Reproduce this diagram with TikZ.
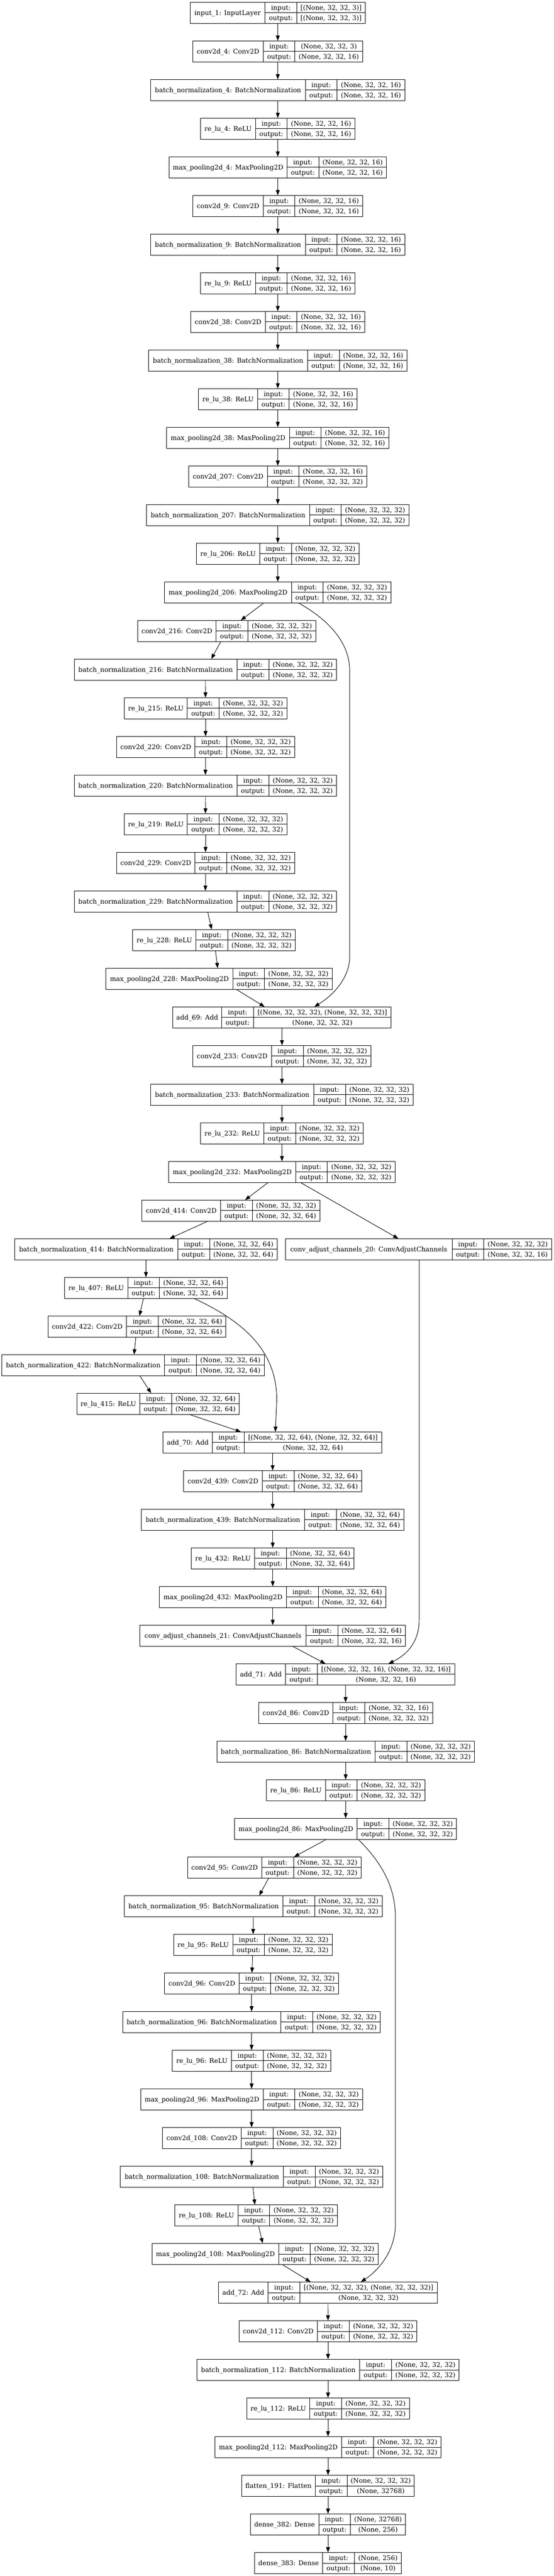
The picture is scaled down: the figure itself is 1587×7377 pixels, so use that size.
\documentclass[tikz,border=0pt]{standalone}
\usepackage{fontspec}
\setmainfont{DejaVu Serif}
\usetikzlibrary{arrows.meta,calc}
\tikzset{
  lbox/.style={draw=black, line width=0.7pt, inner sep=0pt, outer sep=0pt, minimum height=30.5pt, fill=white},
  cell/.style={line width=0.7pt},
  txt/.style={inner sep=0pt, font=\fontsize{9.35}{11}\selectfont, text height=6.8pt, text depth=0pt},
  arr/.style={line width=0.7pt, -{Triangle[length=7.5pt,width=5.5pt]}}
}
% #1 id, #2 rank, #3 left x, #4 name cell width, #5 value cell width, #6 title, #7 input, #8 output
\newcommand\layer[8]{%
  \pgfmathsetmacro\kyY{6+110.66*#2}%
  \pgfmathsetmacro\kyA{#3+#4}%
  \pgfmathsetmacro\kyB{#3+#4+91}%
  \pgfmathsetmacro\kyC{#3+#4+91+#5}%
  \pgfmathsetmacro\kyW{(#4+91+#5)*0.5}%
  \pgfmathsetmacro\kyM{6+110.66*#2+30.5}%
  \pgfmathsetmacro\kyE{6+110.66*#2+61}%
  \node[lbox, minimum width=\kyW pt, anchor=north west] (#1) at (#3,\kyY) {};
  \draw[cell] (\kyA,\kyY) -- (\kyA,\kyE) (\kyB,\kyY) -- (\kyB,\kyE) (\kyA,\kyM) -- (\kyC,\kyM);
  \node[txt] (#1-n) at ({(#3+\kyA)/2},\kyM) {#6};
  \node[txt] (#1-i) at ({(\kyA+\kyB)/2},{\kyY+15.25}) {input:};
  \node[txt] (#1-iv) at ({(\kyB+\kyC)/2},{\kyY+15.25}) {#7};
  \node[txt] (#1-o) at ({(\kyA+\kyB)/2},{\kyY+45.75}) {output:};
  \node[txt] (#1-ov) at ({(\kyB+\kyC)/2},{\kyY+45.75}) {#8};
}
\begin{document}
\begin{tikzpicture}[x=0.5pt,y=-0.5pt]
\fill[white] (0,0) rectangle (1587,7377);
\useasboundingbox (0,0) rectangle (1587,7377);
% main column (ranks 0-15)
\layer{inp}{0}{545}{214.5}{196.5}{input\_1: InputLayer}{[(None, 32, 32, 3)]}{[(None, 32, 32, 3)]}
\layer{c4}{1}{552.75}{201.5}{194}{conv2d\_4: Conv2D}{(None, 32, 32, 3)}{(None, 32, 32, 16)}
\layer{b4}{2}{432}{443}{194}{batch\_normalization\_4: BatchNormalization}{(None, 32, 32, 16)}{(None, 32, 32, 16)}
\layer{r4}{3}{575}{157}{194}{re\_lu\_4: ReLU}{(None, 32, 32, 16)}{(None, 32, 32, 16)}
\layer{m4}{4}{484.5}{338}{194}{max\_pooling2d\_4: MaxPooling2D}{(None, 32, 32, 16)}{(None, 32, 32, 16)}
\layer{c9}{5}{552.75}{201.5}{194}{conv2d\_9: Conv2D}{(None, 32, 32, 16)}{(None, 32, 32, 16)}
\layer{b9}{6}{432}{443}{194}{batch\_normalization\_9: BatchNormalization}{(None, 32, 32, 16)}{(None, 32, 32, 16)}
\layer{r9}{7}{575}{157}{194}{re\_lu\_9: ReLU}{(None, 32, 32, 16)}{(None, 32, 32, 16)}
\layer{c38}{8}{546.75}{213.5}{194}{conv2d\_38: Conv2D}{(None, 32, 32, 16)}{(None, 32, 32, 16)}
\layer{b38}{9}{425.75}{455.5}{194}{batch\_normalization\_38: BatchNormalization}{(None, 32, 32, 16)}{(None, 32, 32, 16)}
\layer{r38}{10}{569}{169}{194}{re\_lu\_38: ReLU}{(None, 32, 32, 16)}{(None, 32, 32, 16)}
\layer{m38}{11}{477.75}{351.5}{194}{max\_pooling2d\_38: MaxPooling2D}{(None, 32, 32, 16)}{(None, 32, 32, 16)}
\layer{c207}{12}{541.25}{224.5}{194}{conv2d\_207: Conv2D}{(None, 32, 32, 16)}{(None, 32, 32, 32)}
\layer{b207}{13}{420.25}{466.5}{194}{batch\_normalization\_207: BatchNormalization}{(None, 32, 32, 32)}{(None, 32, 32, 32)}
\layer{r206}{14}{562.75}{181.5}{194}{re\_lu\_206: ReLU}{(None, 32, 32, 32)}{(None, 32, 32, 32)}
\layer{m206}{15}{471.75}{363.5}{194}{max\_pooling2d\_206: MaxPooling2D}{(None, 32, 32, 32)}{(None, 32, 32, 32)}
% first residual branch
\layer{c216}{16}{394.5}{225}{194}{conv2d\_216: Conv2D}{(None, 32, 32, 32)}{(None, 32, 32, 32)}
\layer{b216}{17}{212.5}{467}{194}{batch\_normalization\_216: BatchNormalization}{(None, 32, 32, 32)}{(None, 32, 32, 32)}
\layer{r215}{18}{356}{181}{194}{re\_lu\_215: ReLU}{(None, 32, 32, 32)}{(None, 32, 32, 32)}
\layer{c220}{19}{334}{225}{194}{conv2d\_220: Conv2D}{(None, 32, 32, 32)}{(None, 32, 32, 32)}
\layer{b220}{20}{212.5}{467}{194}{batch\_normalization\_220: BatchNormalization}{(None, 32, 32, 32)}{(None, 32, 32, 32)}
\layer{r219}{21}{356}{181}{194}{re\_lu\_219: ReLU}{(None, 32, 32, 32)}{(None, 32, 32, 32)}
\layer{c229}{22}{334}{225}{194}{conv2d\_229: Conv2D}{(None, 32, 32, 32)}{(None, 32, 32, 32)}
\layer{b229}{23}{212.5}{467}{194}{batch\_normalization\_229: BatchNormalization}{(None, 32, 32, 32)}{(None, 32, 32, 32)}
\layer{r228}{24}{380.5}{181}{194}{re\_lu\_228: ReLU}{(None, 32, 32, 32)}{(None, 32, 32, 32)}
\layer{m228}{25}{303.5}{363.5}{194}{max\_pooling2d\_228: MaxPooling2D}{(None, 32, 32, 32)}{(None, 32, 32, 32)}
\layer{a69}{26}{495}{140.5}{394.5}{add\_69: Add}{[(None, 32, 32, 32), (None, 32, 32, 32)]}{(None, 32, 32, 32)}
\layer{c233}{27}{553}{225}{194}{conv2d\_233: Conv2D}{(None, 32, 32, 32)}{(None, 32, 32, 32)}
\layer{b233}{28}{432}{467}{194}{batch\_normalization\_233: BatchNormalization}{(None, 32, 32, 32)}{(None, 32, 32, 32)}
\layer{r232}{29}{575}{181}{194}{re\_lu\_232: ReLU}{(None, 32, 32, 32)}{(None, 32, 32, 32)}
\layer{m232}{30}{483.75}{363.5}{194}{max\_pooling2d\_232: MaxPooling2D}{(None, 32, 32, 32)}{(None, 32, 32, 32)}
% second residual branch
\layer{c414}{31}{407}{225}{194}{conv2d\_414: Conv2D}{(None, 32, 32, 32)}{(None, 32, 32, 64)}
\layer{b414}{32}{42.5}{467}{194}{batch\_normalization\_414: BatchNormalization}{(None, 32, 32, 64)}{(None, 32, 32, 64)}
\layer{ca20}{32}{818}{477.5}{194}{conv\_adjust\_channels\_20: ConvAdjustChannels}{(None, 32, 32, 32)}{(None, 32, 32, 16)}
\layer{r407}{33}{185}{181}{194}{re\_lu\_407: ReLU}{(None, 32, 32, 64)}{(None, 32, 32, 64)}
\layer{c422}{34}{137.5}{225}{194}{conv2d\_422: Conv2D}{(None, 32, 32, 64)}{(None, 32, 32, 64)}
\layer{b422}{35}{5}{467}{194}{batch\_normalization\_422: BatchNormalization}{(None, 32, 32, 64)}{(None, 32, 32, 64)}
\layer{r415}{36}{220}{181}{194}{re\_lu\_415: ReLU}{(None, 32, 32, 64)}{(None, 32, 32, 64)}
\layer{a70}{37}{467.5}{141}{394.5}{add\_70: Add}{[(None, 32, 32, 64), (None, 32, 32, 64)]}{(None, 32, 32, 64)}
\layer{c439}{38}{526.5}{225}{194}{conv2d\_439: Conv2D}{(None, 32, 32, 64)}{(None, 32, 32, 64)}
\layer{b439}{39}{405.5}{467}{194}{batch\_normalization\_439: BatchNormalization}{(None, 32, 32, 64)}{(None, 32, 32, 64)}
\layer{r432}{40}{548.5}{181}{194}{re\_lu\_432: ReLU}{(None, 32, 32, 64)}{(None, 32, 32, 64)}
\layer{m432}{41}{457.25}{363.5}{194}{max\_pooling2d\_432: MaxPooling2D}{(None, 32, 32, 64)}{(None, 32, 32, 64)}
\layer{ca21}{42}{400.75}{476.5}{194}{conv\_adjust\_channels\_21: ConvAdjustChannels}{(None, 32, 32, 64)}{(None, 32, 32, 16)}
\layer{a71}{43}{677}{141}{394}{add\_71: Add}{[(None, 32, 32, 16), (None, 32, 32, 16)]}{(None, 32, 32, 16)}
\layer{c86}{44}{741.5}{213}{194}{conv2d\_86: Conv2D}{(None, 32, 32, 16)}{(None, 32, 32, 32)}
\layer{b86}{45}{621.25}{453.5}{194}{batch\_normalization\_86: BatchNormalization}{(None, 32, 32, 32)}{(None, 32, 32, 32)}
\layer{r86}{46}{763.5}{169}{194}{re\_lu\_86: ReLU}{(None, 32, 32, 32)}{(None, 32, 32, 32)}
\layer{m86}{47}{672.5}{351}{194}{max\_pooling2d\_86: MaxPooling2D}{(None, 32, 32, 32)}{(None, 32, 32, 32)}
% third residual branch
\layer{c95}{48}{537.5}{212.5}{194}{conv2d\_95: Conv2D}{(None, 32, 32, 32)}{(None, 32, 32, 32)}
\layer{b95}{49}{357}{453.5}{194}{batch\_normalization\_95: BatchNormalization}{(None, 32, 32, 32)}{(None, 32, 32, 32)}
\layer{r95}{50}{498}{169}{194}{re\_lu\_95: ReLU}{(None, 32, 32, 32)}{(None, 32, 32, 32)}
\layer{c96}{51}{472}{213}{194}{conv2d\_96: Conv2D}{(None, 32, 32, 32)}{(None, 32, 32, 32)}
\layer{b96}{52}{351.75}{453.5}{194}{batch\_normalization\_96: BatchNormalization}{(None, 32, 32, 32)}{(None, 32, 32, 32)}
\layer{r96}{53}{494}{169}{194}{re\_lu\_96: ReLU}{(None, 32, 32, 32)}{(None, 32, 32, 32)}
\layer{m96}{54}{403}{351}{194}{max\_pooling2d\_96: MaxPooling2D}{(None, 32, 32, 32)}{(None, 32, 32, 32)}
\layer{c108}{55}{466}{225}{194}{conv2d\_108: Conv2D}{(None, 32, 32, 32)}{(None, 32, 32, 32)}
\layer{b108}{56}{345}{467}{194}{batch\_normalization\_108: BatchNormalization}{(None, 32, 32, 32)}{(None, 32, 32, 32)}
\layer{r108}{57}{501}{181}{194}{re\_lu\_108: ReLU}{(None, 32, 32, 32)}{(None, 32, 32, 32)}
\layer{m108}{58}{436}{362.5}{194}{max\_pooling2d\_108: MaxPooling2D}{(None, 32, 32, 32)}{(None, 32, 32, 32)}
\layer{a72}{59}{626.5}{141.5}{394}{add\_72: Add}{[(None, 32, 32, 32), (None, 32, 32, 32)]}{(None, 32, 32, 32)}
% head
\layer{c112}{60}{685}{225}{194}{conv2d\_112: Conv2D}{(None, 32, 32, 32)}{(None, 32, 32, 32)}
\layer{b112}{61}{564}{467}{194}{batch\_normalization\_112: BatchNormalization}{(None, 32, 32, 32)}{(None, 32, 32, 32)}
\layer{r112}{62}{707}{181}{194}{re\_lu\_112: ReLU}{(None, 32, 32, 32)}{(None, 32, 32, 32)}
\layer{m112}{63}{616}{363}{194}{max\_pooling2d\_112: MaxPooling2D}{(None, 32, 32, 32)}{(None, 32, 32, 32)}
\layer{fl}{64}{692.5}{211}{193}{flatten\_191: Flatten}{(None, 32, 32, 32)}{(None, 32768)}
\layer{d382}{65}{717.75}{195.5}{158}{dense\_382: Dense}{(None, 32768)}{(None, 256)}
\layer{d383}{66}{729.5}{195}{135}{dense\_383: Dense}{(None, 256)}{(None, 10)}
% straight connectors
\foreach \a/\b in {inp/c4,c4/b4,b4/r4,r4/m4,m4/c9,c9/b9,b9/r9,r9/c38,c38/b38,b38/r38,r38/m38,m38/c207,c207/b207,b207/r206,r206/m206,
  m206/c216,c216/b216,b216/r215,r215/c220,c220/b220,b220/r219,r219/c229,c229/b229,b229/r228,r228/m228,m228/a69,
  a69/c233,c233/b233,b233/r232,r232/m232,
  m232/c414,c414/b414,b414/r407,r407/c422,c422/b422,b422/r415,r415/a70,
  a70/c439,c439/b439,b439/r432,r432/m432,m432/ca21,ca21/a71,
  a71/c86,c86/b86,b86/r86,r86/m86,
  m86/c95,c95/b95,b95/r95,r95/c96,c96/b96,b96/r96,r96/m96,m96/c108,c108/b108,b108/r108,r108/m108,m108/a72,
  a72/c112,c112/b112,b112/r112,r112/m112,m112/fl,fl/d382,d382/d383}
  \draw[arr] (\a) -- (\b);
\draw[arr] ($(m232.south west)+(378,0)$) -- ($(ca20.north west)+(323.6,0)$);
% skip connectors
\draw[arr] ($(m206.south west)+(383.5,0)$) .. controls (925,1765) and (1002,1830) .. (1002,1920)
  -- (1002,2740) .. controls (1002,2800) and (955,2850) .. ($(a69.north west)+(405.7,0)$);
\draw[arr] ($(r407.south west)+(371.6,0)$) .. controls (700,3785) and (794,3870) .. (793,4010)
  -- ($(a70.north west)+(321.5,0)$);
\draw[arr] ($(ca20.south west)+(383,0)$) -- (1201,4640) .. controls (1201,4700) and (1168,4738) .. ($(a71.north west)+(436,0)$);
\draw[arr] ($(m86.south west)+(354.5,0)$) .. controls (1090,5330) and (1133,5400) .. (1133,5490)
  -- (1133,6370) .. controls (1133,6450) and (1080,6505) .. ($(a72.north west)+(407.5,0)$);
\end{tikzpicture}
\end{document}
